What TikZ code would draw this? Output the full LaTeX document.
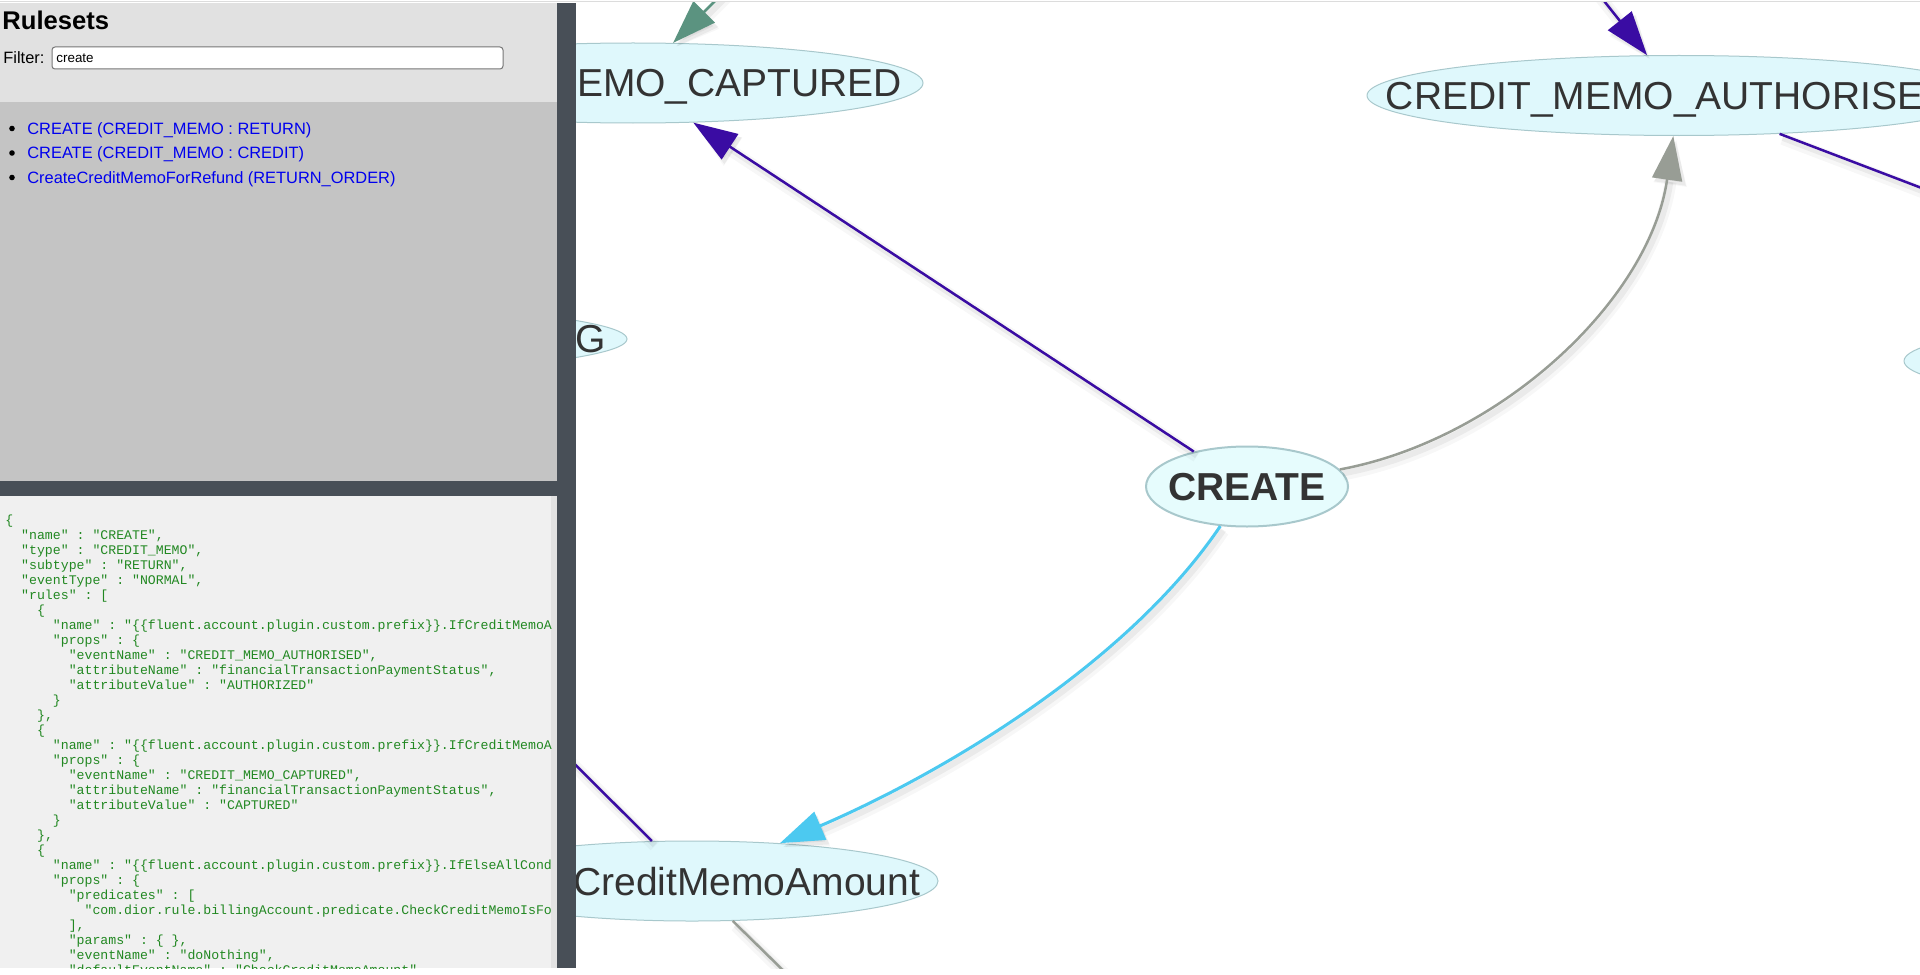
\documentclass[tikz,border=0pt]{standalone}
\usepackage{fontspec}
\setmainfont{Liberation Sans}
\setmonofont{Liberation Mono}
\usetikzlibrary{shapes.geometric, arrows.meta, positioning}

\definecolor{panellight}{RGB}{225,225,225}
\definecolor{panelmid}{RGB}{196,196,196}
\definecolor{paneldark}{RGB}{72,79,87}
\definecolor{codebg}{RGB}{240,240,240}
\definecolor{codebar}{RGB}{227,227,227}
\definecolor{codegreen}{RGB}{34,136,34}
\definecolor{linkblue}{RGB}{0,0,238}
\definecolor{inputedge}{RGB}{118,118,118}
\definecolor{topline}{RGB}{220,220,220}
\definecolor{nodefill}{RGB}{223,248,252}
\definecolor{createfill}{RGB}{230,252,253}
\definecolor{nodeedge}{RGB}{168,200,204}
\definecolor{nodetext}{RGB}{51,51,51}
\definecolor{indigo}{RGB}{58,12,163}
\definecolor{skyblue}{RGB}{76,201,240}
\definecolor{edgegray}{RGB}{152,157,149}
\definecolor{tealgreen}{RGB}{91,147,128}

\newcommand{\cind}[1]{\hspace*{\dimexpr0.6em*#1\relax}}

\begin{document}
\begin{tikzpicture}[x=0.5pt, y=-0.5pt,
  snode/.style={ellipse, draw=nodeedge, fill=nodefill, line width=0.5pt, inner sep=0pt, minimum height=40pt},
  createnode/.style={fill=createfill, line width=1pt},
  stext/.style={inner sep=0pt, text depth=0pt, text=nodetext, font=\fontsize{19.5pt}{22pt}\selectfont},
  createtext/.style={stext, font=\fontsize{19.5pt}{22pt}\selectfont\bfseries},
  shadowed/.style={
    preaction={draw=black, opacity=0.03, line width=6pt, transform canvas={shift={(1.5pt,-2.5pt)}}},
    preaction={draw=black, opacity=0.05, line width=3pt, transform canvas={shift={(1.5pt,-2pt)}}}},
  flow/.style={line width=1.25pt, -{Triangle[length=22pt, width=15pt]}, shadowed},
  link/.style={line width=1.25pt, shadowed},
  uitext/.style={inner sep=0pt, anchor=base west, font=\fontsize{8.2pt}{10pt}\selectfont},
  codetext/.style={inner sep=0pt, anchor=north west, align=left, text=codegreen, font=\ttfamily\fontsize{6.6pt}{7.5pt}\selectfont}
]
  \useasboundingbox (0,0) rectangle (1920,974);
  \fill[white] (0,0) rectangle (1920,974);
  \draw[topline, line width=0.5pt] (0,1.5) -- (1920,1.5);

  % graph canvas
  \begin{scope}
    \clip (576,3) rectangle (1920,968);
    \node[snode, minimum width=290pt] (captured) at (633,83) {};
    \node[stext, left=10.5pt of captured.east] (captured-txt) {EMO\_CAPTURED};
    \node[snode, minimum width=312pt] (authorised) at (1679,95.5) {};
    \node[stext, right=9.5pt of authorised.west] (authorised-txt) {CREDIT\_MEMO\_AUTHORISE};
    \node[snode, minimum width=451pt] (leftstate) at (176,339) {};
    \node[stext, left=10.5pt of leftstate.east] (leftstate-txt) {G};
    \node[snode, minimum width=300pt] (rightstate) at (2204,361) {};
    \node[snode, createnode, minimum width=101pt] (create) at (1247,486.5) {};
    \node[createtext] (create-txt) at (create) {CREATE};
    \node[snode, minimum width=246pt] (check) at (692,881) {};
    \node[stext, left=9pt of check.east] (check-txt) {CreditMemoAmount};

    \coordinate (captured-in) at (816,-100);
    \coordinate (authorised-in) at (1524,-100);
    \coordinate (authorised-out) at (2100,256);
    \coordinate (check-out) at (400,590);
    \coordinate (check-down) at (900,1085);

    \draw[flow, indigo] (create) -- (captured);
    \draw[flow, edgegray] (create) .. controls (1500,440) and (1650,300) .. (authorised);
    \draw[flow, skyblue, line width=1.5pt] (create) .. controls (1130,660) and (950,770) .. (check);
    \draw[flow, tealgreen] (captured-in) -- (captured);
    \draw[flow, indigo] (authorised-in) -- (authorised);
    \draw[link, indigo] (authorised) -- (authorised-out);
    \draw[link, indigo] (check) -- (check-out);
    \draw[link, edgegray] (check) -- (check-down);
  \end{scope}

  % side panels
  \fill[panellight] (0,3) rectangle (557,102);
  \fill[panelmid] (0,102) rectangle (557,481);
  \fill[codebg] (0,496) rectangle (551,968);
  \fill[codebar] (551,496) rectangle (557,968);
  \fill[paneldark] (0,481) rectangle (557,496);
  \fill[paneldark] (557,3) rectangle (576,968);

  \node[uitext, font=\fontsize{12.8pt}{15pt}\selectfont\bfseries] (title) at (2,29.5) {Rulesets};
  \node[uitext] (filter) at (3,63.5) {Filter:};
  \node[draw=inputedge, fill=white, line width=0.5pt, rounded corners=1.5pt, inner sep=0pt,
        minimum width=225.5pt, minimum height=11pt, anchor=west] (filterbox) at (51.5,58) {};
  \node[uitext, anchor=west, font=\fontsize{6.7pt}{8pt}\selectfont] (filtertext) at (56,58) {create};

  \fill (12,128.5) circle[radius=1.4pt];
  \fill (12,153) circle[radius=1.4pt];
  \fill (12,177.5) circle[radius=1.4pt];
  \node[uitext, text=linkblue] (rule1) at (27,134) {CREATE (CREDIT\_MEMO : RETURN)};
  \node[uitext, text=linkblue] (rule2) at (27,158.5) {CREATE (CREDIT\_MEMO : CREDIT)};
  \node[uitext, text=linkblue] (rule3) at (27,183) {CreateCreditMemoForRefund (RETURN\_ORDER)};

  \begin{scope}
    \clip (5,496) rectangle (551,968);
    \node[codetext] (json) at (5,514.5) {%
\{\\
\cind{2}"name" : "CREATE",\\
\cind{2}"type" : "CREDIT\_MEMO",\\
\cind{2}"subtype" : "RETURN",\\
\cind{2}"eventType" : "NORMAL",\\
\cind{2}"rules" : [\\
\cind{4}\{\\
\cind{6}"name" : "\{\{fluent.account.plugin.custom.prefix\}\}.IfCreditMemoA\\
\cind{6}"props" : \{\\
\cind{8}"eventName" : "CREDIT\_MEMO\_AUTHORISED",\\
\cind{8}"attributeName" : "financialTransactionPaymentStatus",\\
\cind{8}"attributeValue" : "AUTHORIZED"\\
\cind{6}\}\\
\cind{4}\},\\
\cind{4}\{\\
\cind{6}"name" : "\{\{fluent.account.plugin.custom.prefix\}\}.IfCreditMemoA\\
\cind{6}"props" : \{\\
\cind{8}"eventName" : "CREDIT\_MEMO\_CAPTURED",\\
\cind{8}"attributeName" : "financialTransactionPaymentStatus",\\
\cind{8}"attributeValue" : "CAPTURED"\\
\cind{6}\}\\
\cind{4}\},\\
\cind{4}\{\\
\cind{6}"name" : "\{\{fluent.account.plugin.custom.prefix\}\}.IfElseAllCond\\
\cind{6}"props" : \{\\
\cind{8}"predicates" : [\\
\cind{10}"com.dior.rule.billingAccount.predicate.CheckCreditMemoIsFo\\
\cind{8}],\\
\cind{8}"params" : \{ \},\\
\cind{8}"eventName" : "doNothing",\\
\cind{8}"defaultEventName" : "CheckCreditMemoAmount",};
  \end{scope}
\end{tikzpicture}
\end{document}
